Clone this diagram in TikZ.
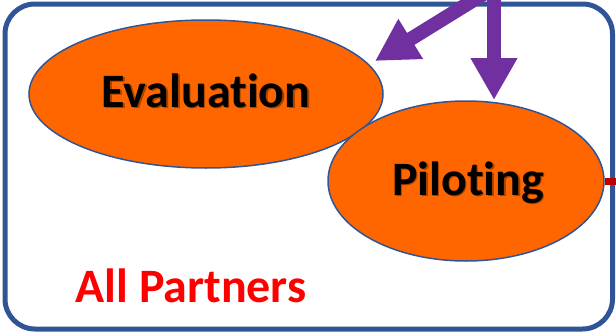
\documentclass[tikz,border=0pt]{standalone}
\usepackage{fontspec}
\setmainfont{Carlito}[Ligatures={NoCommon,NoRare,NoContextual}]
\usetikzlibrary{arrows.meta,shapes.geometric}
\definecolor{boxblue}{HTML}{2F5597}
\definecolor{orangefill}{HTML}{FF6600}
\definecolor{purp}{HTML}{7030A0}
\definecolor{darkred}{HTML}{C00000}
\tikzset{
  blob/.style={ellipse, draw=boxblue, line width=1.5pt, fill=orangefill, inner sep=0pt},
  bigtext/.style={font=\fontsize{48}{58}\selectfont\bfseries, inner sep=0pt, anchor=base},
  shadowtext/.style={bigtext, text=black, opacity=0.35},
  parrow/.style={draw=purp, line width=14pt, -{Triangle[width=44pt,length=42pt]}}
}
\begin{document}
\begin{tikzpicture}[x=1pt,y=-1pt]
\useasboundingbox (0,0) rectangle (616,332);
\draw[boxblue, line width=5pt, rounded corners=30pt] (5,4) rectangle (612.5,329);
\node[blob, minimum width=354pt, minimum height=148pt] (eval) at (206,94) {};
\node[blob, minimum width=276pt, minimum height=160pt] (pil) at (466,181) {};
\coordinate (redend) at (616,181);
\draw[darkred, line width=7pt] (pil.east) -- (redend);
\node[shadowtext] (evalsh) at (207.5,108.5) {Evaluation};
\node[bigtext] (evaltxt) at (206,107) {Evaluation};
\node[shadowtext] (pilsh) at (469.5,196.5) {Piloting};
\node[bigtext] (piltxt) at (468,195) {Piloting};
\node[bigtext, text=red] (partners) at (191,302) {All Partners};
\coordinate (src1) at (490,-10);
\coordinate (tip1) at (375,61);
\coordinate (src2) at (494,-10);
\coordinate (tip2) at (494,100);
\draw[parrow] (src1) -- (tip1);
\draw[parrow] (src2) -- (tip2);
\end{tikzpicture}
\end{document}
